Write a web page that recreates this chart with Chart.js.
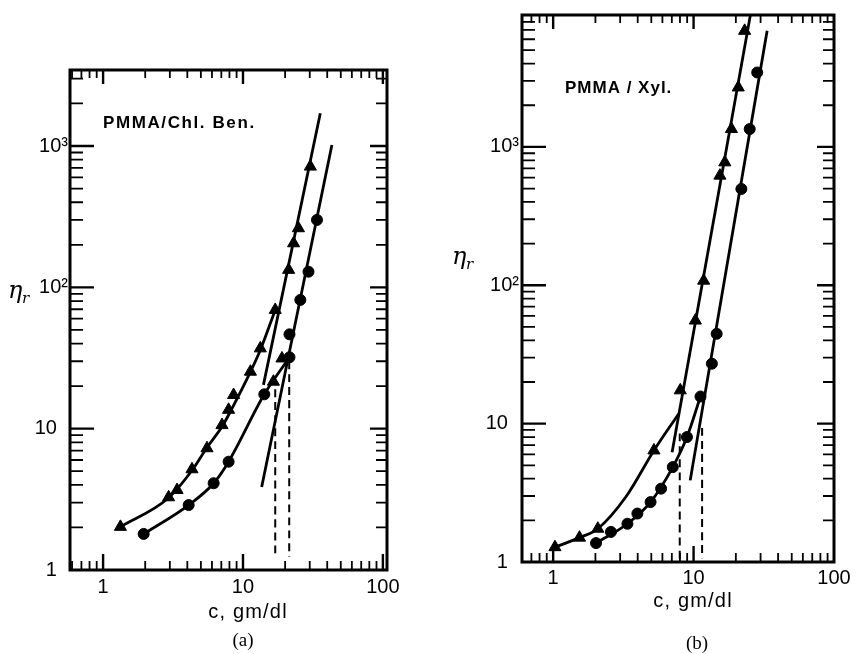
<!DOCTYPE html>
<html><head><meta charset="utf-8">
<script src="https://cdn.jsdelivr.net/npm/chart.js@4.4.1/dist/chart.umd.min.js"></script>
<style>
html,body{margin:0;padding:0;background:#fff;}
#wrap{position:relative;width:858px;height:654px;background:#fff;}
canvas{position:absolute;left:0;top:0;}
</style></head><body>
<div id="wrap"><canvas id="ca" width="858" height="654"></canvas><canvas id="cb" width="858" height="654"></canvas></div>
<script>
// ===== Panel (a): PMMA / Chl. Ben. =====
const aTriC   = [1.33, 2.94, 3.38, 4.32, 5.53, 7.08, 7.89, 8.57, 11.3, 13.3, 16.5, 17.0, 19.0, 21.2, 23.0, 24.9, 30.3];
const aTriEta = [2.02, 3.27, 3.68, 5.16, 7.27, 10.6, 13.6, 17.3, 25.3, 37.0, 21.5, 69.2, 31.4, 133, 205, 262, 715];
const aCirC   = [1.95, 4.09, 6.17, 7.89, 14.2, 21.5, 21.5, 25.7, 29.4, 33.8];
const aCirEta = [1.80, 2.88, 4.11, 5.84, 17.5, 32.0, 46.5, 81.5, 129, 300];
const aTriCurveC   = [1.33, 2.93, 4.34, 5.56, 7.11, 8.25, 11.3, 13.3, 17.0];
const aTriCurveEta = [2.02, 3.23, 5.10, 7.42, 10.4, 13.6, 25.2, 36.0, 69.2];
const aCirCurveC   = [1.95, 4.09, 6.17, 7.89, 14.2, 21.5];
const aCirCurveEta = [1.80, 2.88, 4.11, 5.84, 17.5, 32.0];
const aTriLineC   = [14.0, 35.7];
const aTriLineEta = [20.4, 1706];
const aCirLineC   = [13.6, 43.2];
const aCirLineEta = [3.87, 1018];
const aDash1C = [17.0, 17.0], aDash1Eta = [19.0, 1.24];
const aDash2C = [21.4, 21.4], aDash2Eta = [30.0, 1.24];
const aXRange = [0.58, 107], aYRange = [1, 3450];

// ===== Panel (b): PMMA / Xyl. =====
const bTriC   = [1.03, 1.54, 2.08, 5.22, 8.04, 10.3, 11.8, 15.4, 16.7, 18.6, 20.8, 23.1];
const bTriEta = [1.28, 1.50, 1.74, 6.40, 17.4, 55.6, 108, 620, 773, 1346, 2690, 6900];
const bCirC   = [2.02, 2.58, 3.38, 3.98, 4.94, 5.87, 7.11, 8.97, 11.2, 13.5, 14.6, 21.9, 25.1, 28.4];
const bCirEta = [1.37, 1.65, 1.89, 2.24, 2.71, 3.39, 4.85, 8.0, 15.7, 27.1, 44.6, 497, 1346, 3450];
const bTriCurveC   = [1.03, 1.54, 2.08, 3.29, 5.22, 7.84];
const bTriCurveEta = [1.28, 1.50, 1.74, 2.95, 6.40, 11.8];
const bCirCurveC   = [2.02, 3.38, 4.94, 7.11, 8.97, 11.2];
const bCirCurveEta = [1.37, 1.89, 2.71, 4.85, 8.0, 15.7];
const bTriLineC   = [7.03, 25.4];
const bTriLineEta = [6.22, 9000];
const bCirLineC   = [9.46, 33.4];
const bCirLineEta = [3.89, 6900];
const bDash1C = [7.97, 7.97], bDash1Eta = [8.5, 1.06];
const bDash2C = [11.5, 11.5], bDash2Eta = [9.3, 1.06];
const bXRange = [0.631, 100], bYRange = [1, 8980];

// ===== tick values and labels =====
const xTickValues = [0.6,0.7,0.8,0.9,1,2,3,4,5,6,7,8,9,10,20,30,40,50,60,70,80,90,100];
const yTickValues = [1,2,3,4,5,6,7,8,9,10,20,30,40,50,60,70,80,90,100,200,300,400,500,600,700,800,900,1000,2000,3000,4000,5000,6000,7000,8000,9000];
const xMajorValues = [1, 10, 100];
const xMajorLabels = ['1', '10', '100'];
const yMajorValues = [1, 10, 100, 1000];
const yMajorLabels = ['1\u2007', '10\u2007', '10\u00B2', '10\u00B3'];

const pts = (xs, ys) => xs.map((x, i) => ({x, y: ys[i]}));
const isMajor = v => Math.abs(Math.log10(v) - Math.round(Math.log10(v))) < 1e-9;

const frameTicks = {
  id: 'frameTicks',
  afterDatasetsDraw(chart) {
    const {ctx, chartArea: {left, right, top, bottom}} = chart;
    const xs = chart.scales.x, ys = chart.scales.y;
    ctx.save();
    ctx.strokeStyle = '#000';
    xs.ticks.forEach(t => {
      const v = t.value;
      if (v <= xs.min * 1.01 || v >= xs.max * 0.99) return;
      const p = xs.getPixelForValue(v), M = isMajor(v);
      ctx.lineWidth = M ? 2.4 : 1.8;
      ctx.beginPath();
      ctx.moveTo(p, bottom); ctx.lineTo(p, bottom - (M ? 16 : 9));
      ctx.moveTo(p, top); ctx.lineTo(p, top + (M ? 14 : 8));
      ctx.stroke();
    });
    ys.ticks.forEach(t => {
      const v = t.value;
      if (v <= ys.min * 1.01 || v >= ys.max * 0.99) return;
      const p = ys.getPixelForValue(v), M = isMajor(v);
      ctx.lineWidth = M ? 2.4 : 1.8;
      ctx.beginPath();
      ctx.moveTo(left, p); ctx.lineTo(left + (M ? 24 : 13), p);
      ctx.moveTo(right, p); ctx.lineTo(right - (M ? 17 : 11), p);
      ctx.stroke();
    });
    ctx.lineWidth = 3;
    ctx.strokeRect(left, top, right - left, bottom - top);
    ctx.restore();
  }
};

const annot = {
  id: 'annot',
  afterDraw(chart, args, o) {
    const ctx = chart.ctx;
    ctx.save();
    ctx.fillStyle = '#000';
    ctx.textBaseline = 'alphabetic';
    ctx.font = 'bold 17px "Liberation Sans", Arial, sans-serif';
    ctx.letterSpacing = o.ls;
    ctx.textAlign = 'left';
    ctx.fillText(o.label, o.lx, o.ly);
    ctx.font = '20px "Liberation Sans", Arial, sans-serif';
    ctx.letterSpacing = '1.2px';
    ctx.textAlign = 'center';
    ctx.fillText('c, gm/dl', o.tx, o.ty);
    ctx.letterSpacing = '0px';
    ctx.font = '19px "Liberation Serif", "Times New Roman", serif';
    ctx.fillText(o.panel, o.px, o.py);
    ctx.textAlign = 'left';
    ctx.font = 'italic 24px "DejaVu Serif", serif';
    ctx.fillText('\u03B7', o.ex, o.ey);
    ctx.font = 'italic 15px "DejaVu Serif", serif';
    ctx.fillText('r', o.ex + 14, o.ey + 5);
    ctx.restore();
  }
};

function makeChart(id, d) {
  const lineDs = (data, dash) => ({
    data, showLine: true, pointRadius: 0, borderColor: '#000', borderWidth: dash ? 2 : 2.8,
    borderDash: dash ? [8, 5] : [], tension: dash ? 0 : 0.4, cubicInterpolationMode: 'monotone', fill: false
  });
  return new Chart(document.getElementById(id), {
    type: 'scatter',
    data: {
      datasets: [
        {data: d.tri, pointStyle: 'triangle', pointRadius: 7, backgroundColor: '#000', borderColor: '#000', borderWidth: 1, showLine: false},
        {data: d.cir, pointStyle: 'circle', pointRadius: 5.5, backgroundColor: '#000', borderColor: '#000', borderWidth: 1, showLine: false},
        lineDs(d.triCurve), lineDs(d.cirCurve), lineDs(d.triLine), lineDs(d.cirLine),
        lineDs(d.dash1, true), lineDs(d.dash2, true)
      ]
    },
    options: {
      responsive: false, animation: false, devicePixelRatio: 1,
      layout: {padding: d.pad},
      plugins: {legend: {display: false}, tooltip: {enabled: false}, annot: d.annot},
      scales: {
        x: {
          type: 'logarithmic', min: d.xr[0], max: d.xr[1],
          afterBuildTicks: s => { s.ticks = xTickValues.filter(v => v >= d.xr[0] && v <= d.xr[1]).map(v => ({value: v})); },
          afterFit: s => { s.height = 30; },
          grid: {display: false, drawTicks: false}, border: {display: false},
          ticks: {
            autoSkip: false, maxRotation: 0, minRotation: 0, padding: d.xPad, color: '#000',
            font: {family: '"Liberation Sans", Arial, sans-serif', size: 20},
            callback: v => { const i = xMajorValues.indexOf(v); return i >= 0 ? xMajorLabels[i] : ''; }
          }
        },
        y: {
          type: 'logarithmic', min: d.yr[0], max: d.yr[1],
          afterBuildTicks: s => { s.ticks = yTickValues.filter(v => v >= d.yr[0] && v <= d.yr[1]).map(v => ({value: v})); },
          afterFit: s => { s.width = 60; },
          grid: {display: false, drawTicks: false}, border: {display: false},
          ticks: {
            autoSkip: false, padding: d.yPad, color: '#000',
            font: {family: '"Liberation Sans", Arial, sans-serif', size: 20},
            callback: v => { const i = yMajorValues.indexOf(v); return i >= 0 ? yMajorLabels[i] : ''; }
          }
        }
      }
    },
    plugins: [frameTicks, annot]
  });
}

makeChart('ca', {
  tri: pts(aTriC, aTriEta), cir: pts(aCirC, aCirEta),
  triCurve: pts(aTriCurveC, aTriCurveEta), cirCurve: pts(aCirCurveC, aCirCurveEta),
  triLine: pts(aTriLineC, aTriLineEta), cirLine: pts(aCirLineC, aCirLineEta),
  dash1: pts(aDash1C, aDash1Eta), dash2: pts(aDash2C, aDash2Eta),
  xr: aXRange, yr: aYRange, xPad: 5, yPad: 2,
  pad: {left: 10, right: 471, top: 70, bottom: 54},
  annot: {label: 'PMMA/Chl. Ben.', ls: '1.6px', lx: 103, ly: 128, tx: 248, ty: 618, panel: '(a)', px: 243, py: 646, ex: 8, ey: 298}
});
makeChart('cb', {
  tri: pts(bTriC, bTriEta), cir: pts(bCirC, bCirEta),
  triCurve: pts(bTriCurveC, bTriCurveEta), cirCurve: pts(bCirCurveC, bCirCurveEta),
  triLine: pts(bTriLineC, bTriLineEta), cirLine: pts(bCirLineC, bCirLineEta),
  dash1: pts(bDash1C, bDash1Eta), dash2: pts(bDash2C, bDash2Eta),
  xr: bXRange, yr: bYRange, xPad: 4, yPad: 3,
  pad: {left: 462, right: 24, top: 15, bottom: 62},
  annot: {label: 'PMMA / Xyl.', ls: '1px', lx: 565, ly: 93, tx: 693, ty: 607, panel: '(b)', px: 697, py: 649, ex: 452, ey: 264}
});
</script>
</body></html>
